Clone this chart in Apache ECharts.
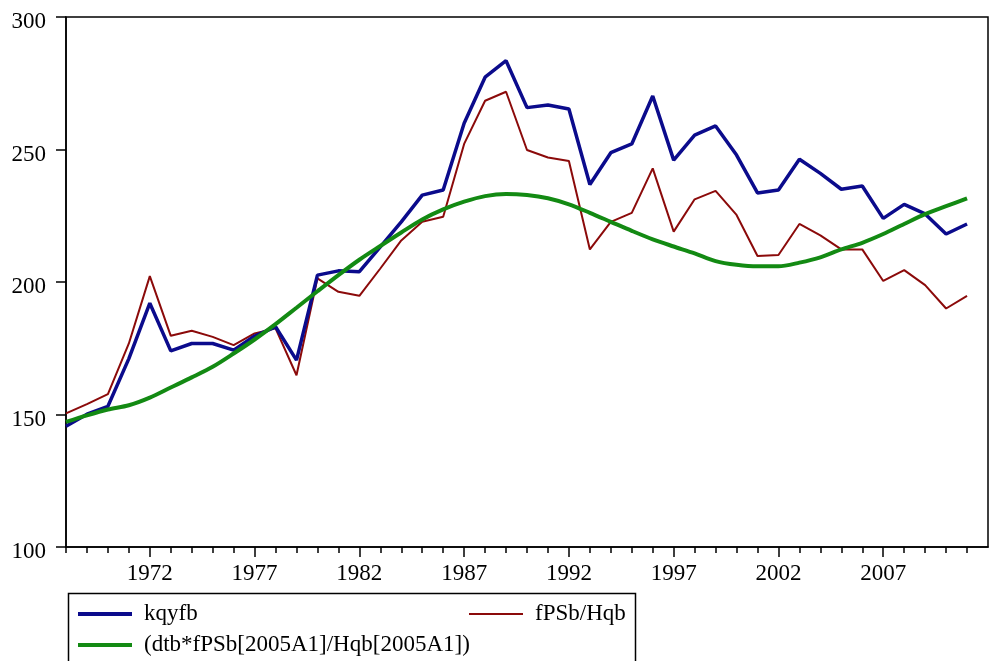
<!DOCTYPE html>
<html>
<head>
<meta charset="utf-8">
<script src="https://cdn.jsdelivr.net/npm/echarts@6/dist/echarts.min.js"></script>
<style>
html,body{margin:0;padding:0;background:#fff;}
#chart{width:990px;height:661px;}
</style>
</head>
<body>
<div id="chart"></div>
<script>
const years = [];
for (let y = 1968; y <= 2011; y++) years.push(y);

const labelYears = [1972, 1977, 1982, 1987, 1992, 1997, 2002, 2007];
const yTicks = [100, 150, 200, 250, 300];

const kqyfb = [145.6, 150.1, 153.1, 171.1, 192.0, 174.0, 176.8, 176.8, 174.3, 179.6,
  183.1, 170.5, 202.6, 204.2, 203.9, 213.3, 222.7, 232.8, 234.7, 259.9,
  277.3, 283.5, 265.8, 266.8, 265.3, 236.8, 248.8, 252.1, 270.2, 246.0,
  255.4, 258.9, 247.9, 233.6, 234.7, 246.3, 241.0, 235.0, 236.2, 224.0,
  229.3, 225.7, 218.1, 221.9];

const fpsbHqb = [150.4, 153.9, 157.7, 176.8, 202.2, 179.7, 181.6, 179.3, 176.2, 180.6,
  182.5, 164.8, 201.4, 196.3, 194.8, 205.1, 215.7, 222.7, 224.6, 252.1,
  268.4, 271.8, 249.8, 247.0, 245.7, 212.3, 222.7, 226.1, 242.9, 219.0,
  231.2, 234.4, 225.3, 209.8, 210.2, 221.9, 217.6, 212.3, 212.3, 200.4,
  204.5, 198.8, 190.0, 194.8];

const dtbScaled = [147.2, 149.7, 151.9, 153.5, 156.4, 160.2, 164.0, 168.0, 173.0, 178.3,
  184.1, 190.3, 196.5, 202.6, 208.4, 213.6, 218.7, 223.6, 227.4, 230.3,
  232.4, 233.2, 232.8, 231.6, 229.3, 226.1, 222.7, 219.3, 216.1, 213.4,
  210.8, 207.9, 206.5, 205.9, 205.9, 207.3, 209.3, 212.3, 214.8, 218.1,
  221.9, 225.6, 228.6, 231.6];

const names = ['kqyfb', 'fPSb/Hqb', '(dtb*fPSb[2005A1]/Hqb[2005A1])'];
const colors = ['#0b0b8c', '#8b0a0a', '#138a13'];

const pair = arr => years.map((y, i) => [y, arr[i]]);
const FONT = '"Liberation Serif", "DejaVu Serif", serif';

const chart = echarts.init(document.getElementById('chart'), null, {renderer: 'canvas'});

const legendBase = {
  orient: 'horizontal',
  padding: 0,
  itemWidth: 54,
  itemGap: 0,
  icon: 'rect',
  textStyle: {fontFamily: FONT, fontSize: 23, color: '#000', padding: [0, 0, 0, 7], lineHeight: 26},
  selectedMode: false
};

chart.setOption({
  animation: false,
  backgroundColor: '#fff',
  grid: {
    left: 66, top: 17, right: 2, bottom: 114,
    show: true, borderColor: '#000', borderWidth: 1.5, backgroundColor: 'transparent'
  },
  legend: [
    Object.assign({}, legendBase, {data: [names[0]], left: 78, top: 601, itemHeight: 4}),
    Object.assign({}, legendBase, {data: [names[1]], left: 469, top: 601, itemHeight: 2}),
    Object.assign({}, legendBase, {data: [names[2]], left: 78, top: 632, itemHeight: 4})
  ],
  graphic: [{
    type: 'rect', left: 66, top: 591,
    shape: {width: 567, height: 120},
    style: {fill: 'none', stroke: '#000', lineWidth: 1.5},
    silent: true, z: -1
  }],
  xAxis: [{
    type: 'value', min: 1968, max: 2012,
    axisLine: {show: true, lineStyle: {color: '#000', width: 1.5}},
    axisTick: {show: true, length: 10, inside: false, customValues: labelYears, lineStyle: {color: '#000', width: 1.5}},
    axisLabel: {show: true, customValues: labelYears, margin: 15, fontFamily: FONT, fontSize: 23, color: '#000', formatter: v => String(v)},
    splitLine: {show: false}
  }, {
    type: 'value', min: 1968, max: 2012, position: 'bottom',
    axisLine: {show: false},
    axisTick: {show: true, length: 6, customValues: years, lineStyle: {color: '#000', width: 1.5}},
    axisLabel: {show: false},
    splitLine: {show: false}
  }],
  yAxis: {
    type: 'value', min: 100, max: 300, interval: 50,
    axisLine: {show: true, lineStyle: {color: '#000', width: 1.5}},
    axisTick: {show: true, length: 10, lineStyle: {color: '#000', width: 1.5}},
    axisLabel: {margin: 20, fontFamily: FONT, fontSize: 23, color: '#000', verticalAlign: 'top', lineHeight: 10},
    splitLine: {show: false}
  },
  series: [
    {name: names[1], type: 'line', data: pair(fpsbHqb), symbol: 'none', z: 2,
     lineStyle: {color: colors[1], width: 2}, itemStyle: {color: colors[1]}},
    {name: names[0], type: 'line', data: pair(kqyfb), symbol: 'none', z: 3,
     lineStyle: {color: colors[0], width: 3.5}, itemStyle: {color: colors[0]}},
    {name: names[2], type: 'line', data: pair(dtbScaled), symbol: 'none', z: 4, smooth: 0.3,
     lineStyle: {color: colors[2], width: 4}, itemStyle: {color: colors[2]}}
  ]
});
</script>
</body>
</html>
